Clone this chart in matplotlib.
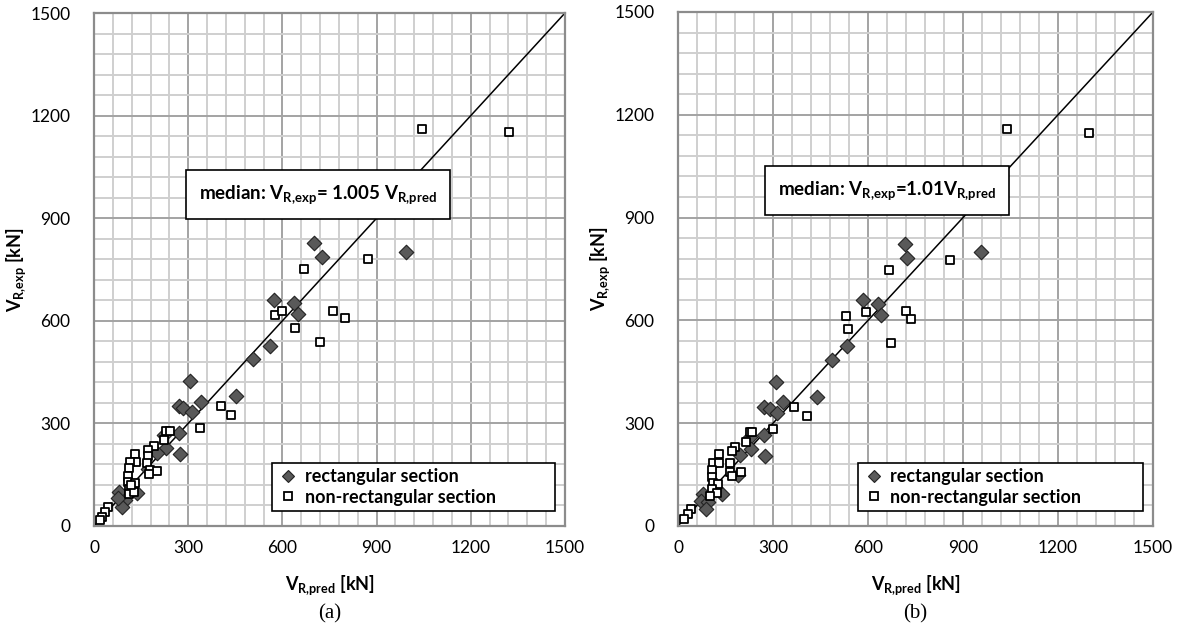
import matplotlib
matplotlib.use("Agg")
import matplotlib.pyplot as plt
from matplotlib.ticker import MultipleLocator
from matplotlib.lines import Line2D

plt.rcParams['font.family'] = ['Lato', 'DejaVu Sans']
plt.rcParams['mathtext.fontset'] = 'custom'
plt.rcParams['mathtext.rm'] = 'Lato:bold'
plt.rcParams['mathtext.bf'] = 'Lato:bold'
plt.rcParams['mathtext.it'] = 'Lato:bold'

# ---- data (a) ----
rect_a_x = [702, 725, 994, 574, 638, 649, 561, 507, 306, 451, 340, 271, 285, 311, 272, 223, 229, 202,
            274, 173, 81, 138, 99, 90, 77]
rect_a_y = [827, 787, 801, 662, 653, 621, 527, 488, 423, 379, 364, 351, 346, 334, 271, 266, 229, 212,
            210, 166, 99, 96, 76, 55, 82]
nonrect_a_x = [1045, 1322, 874, 668, 576, 600, 762, 798, 639, 720, 403, 435, 339, 228, 242, 224, 192,
               173, 171, 132, 134, 115, 170, 111, 178, 202, 175, 107, 109, 131, 111, 110, 128, 117,
               44, 35, 25, 18]
nonrect_a_y = [1161, 1152, 781, 751, 617, 630, 630, 608, 579, 539, 351, 325, 288, 279, 279, 251, 234,
               222, 205, 210, 186, 188, 183, 171, 164, 161, 151, 147, 130, 127, 107, 94, 100, 120,
               55, 40, 25, 18]

# ---- data (b) ----
rect_b_x = [717, 722, 958, 583, 631, 641, 535, 487, 438, 308, 330, 272, 290, 314, 272, 227, 230, 196,
            275, 189, 140, 78, 73, 94, 88]
rect_b_y = [823, 782, 799, 659, 648, 616, 524, 484, 376, 419, 361, 346, 341, 331, 267, 261, 225, 207,
            205, 149, 92, 93, 74, 69, 50]
nonrect_b_x = [1040, 1298, 860, 666, 531, 595, 719, 735, 538, 673, 408, 367, 299, 227, 234, 215, 181,
               170, 130, 112, 130, 164, 106, 164, 199, 170, 106, 110, 125, 106, 124, 101, 41, 30, 19]
nonrect_b_y = [1158, 1148, 777, 747, 613, 625, 626, 605, 576, 534, 322, 347, 283, 275, 275, 246, 231,
               219, 209, 185, 183, 183, 163, 158, 157, 146, 144, 125, 123, 107, 97, 88, 50, 34, 20]

ticks = [0, 300, 600, 900, 1200, 1500]
ann_a = r'median: $\mathbf{V_{R{,}exp}}$= 1.005 $\mathbf{V_{R{,}pred}}$'
ann_b = r'median: $\mathbf{V_{R{,}exp}}$=1.01$\mathbf{V_{R{,}pred}}$'
xlab = r'$\mathbf{V_{R{,}pred}}$ [kN]'
ylab = r'$\mathbf{V_{R{,}exp}}$ [kN]'
leg_labels = ['rectangular section', 'non-rectangular section']
panel = ['(a)', '(b)']

W, H = 1188, 631
fig = plt.figure(figsize=(W / 100, H / 100), dpi=100)

def px_axes(x0, x1, y0, y1):
    return fig.add_axes([x0 / W, 1 - y1 / H, (x1 - x0) / W, (y1 - y0) / H])

axes = [px_axes(94, 565, 13, 526), px_axes(678, 1153, 12, 526)]
datasets = [(rect_a_x, rect_a_y, nonrect_a_x, nonrect_a_y, ann_a, (0.476, 0.647)),
            (rect_b_x, rect_b_y, nonrect_b_x, nonrect_b_y, ann_b, (0.44, 0.652))]

for i, (ax, (rx, ry, nx, ny, ann, apos)) in enumerate(zip(axes, datasets)):
    ax.set_xlim(0, 1500)
    ax.set_ylim(0, 1500)
    ax.xaxis.set_minor_locator(MultipleLocator(60))
    ax.yaxis.set_minor_locator(MultipleLocator(60))
    ax.set_xticks(ticks)
    ax.set_yticks(ticks)
    ax.grid(which='minor', color='#cfcfcf', lw=1.4, zorder=0)
    ax.grid(which='major', color='#a3a3a3', lw=1.4, zorder=0)
    ax.set_axisbelow(True)
    ax.tick_params(which='both', length=0)
    ax.tick_params(axis='y', pad=17, labelsize=12.5)
    ax.tick_params(axis='x', pad=10, labelsize=12.5)
    for s in ax.spines.values():
        s.set_color('#8c8c8c')
        s.set_linewidth(1.6)
    ax.plot([0, 1500], [0, 1500], color='black', lw=1.1, zorder=2)
    ax.scatter(rx, ry, marker='D', s=55, facecolor='#595959', edgecolor='#222222', lw=0.8, zorder=3)
    ax.scatter(nx, ny, marker='s', s=36, facecolor='white', edgecolor='black', lw=1.3, zorder=4)
    ax.set_xlabel(xlab, fontsize=13, fontweight='bold')
    ax.set_ylabel(ylab, fontsize=13, fontweight='bold')
    ax.xaxis.set_label_coords(0.5, -0.092)
    ax.yaxis.set_label_coords(-0.14, 0.5)
    ax.text(apos[0], apos[1], ann, transform=ax.transAxes, ha='center', va='center',
            fontsize=13.5, fontweight='bold', zorder=6,
            bbox=dict(boxstyle='square,pad=0.7', facecolor='white', edgecolor='black', lw=1.2))
    handles = [Line2D([], [], marker='D', ls='none', markersize=6.5, markerfacecolor='#595959',
                      markeredgecolor='#222222', markeredgewidth=0.8),
               Line2D([], [], marker='s', ls='none', markersize=6, markerfacecolor='white',
                      markeredgecolor='black', markeredgewidth=1.3)]
    leg = ax.legend(handles, leg_labels, loc='lower left', bbox_to_anchor=(0.378, 0.029, 0.6, 0.105),
                    mode='expand', fancybox=False, framealpha=1, edgecolor='black',
                    prop={'weight': 'bold', 'size': 13}, handletextpad=0.3, borderpad=0.3,
                    labelspacing=0.2, handlelength=1.2, borderaxespad=0)
    leg.get_frame().set_linewidth(1.2)
    leg.set_zorder(6)
    cx = (94 + 565) / 2 if i == 0 else (678 + 1153) / 2
    fig.text(cx / W, 1 - 614 / H, panel[i], ha='center', va='center', fontsize=15,
             family='Liberation Serif')

fig.savefig('out.png', dpi=100)
